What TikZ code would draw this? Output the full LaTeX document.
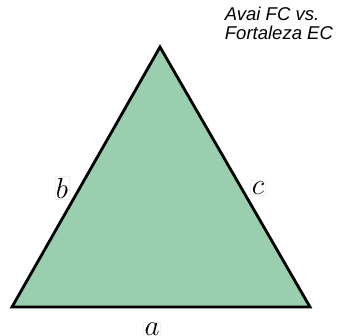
\documentclass[tikz,border=0pt]{standalone}
\usepackage{fontspec}
\newfontfamily\labelfont{Liberation Sans}
\usepackage{tikz}
\usetikzlibrary{positioning,calc}
\definecolor{TriFill}{HTML}{99CEAE}

\begin{document}
\begin{tikzpicture}[every node/.style={font=\Huge},
    sidelabel/.style={inner sep=1pt,draw=gray!12,fill=white}]
        \useasboundingbox (0,0) rectangle (10.14,10.05);
        \coordinate (top) at (4.8,8.64);
        \coordinate (left) at (0.36,0.84);
        \coordinate (right) at (9.3,0.84);
        \draw[line width=2.4pt,line join=miter,fill=TriFill]
          (top)--(left)--(right)--cycle;
        \node[sidelabel] (lb) at (1.86,4.41) {$b$};
        \node[sidelabel] (lc) at (7.74,4.41) {$c$};
        \node[sidelabel] (la) at (4.56,0.16) {$a$};
        % base anchor sits on the last line
        \node[anchor=base west,align=left,inner sep=0pt,
              font=\labelfont\itshape\fontsize{15.8}{16.6}\selectfont]
          (title) at (6.74,8.85)
          {Avai FC vs.\\Fortaleza EC};
      \end{tikzpicture}
\end{document}
